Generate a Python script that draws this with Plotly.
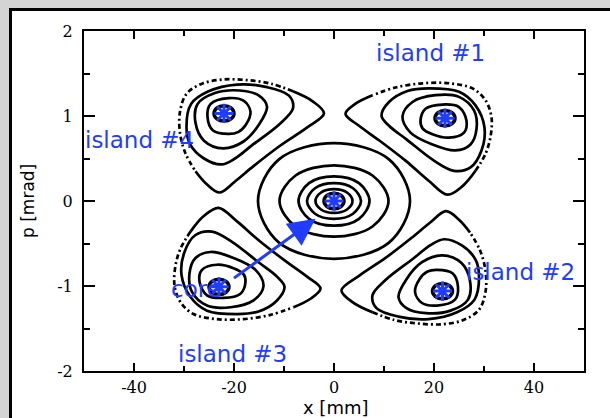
import plotly.graph_objects as go

# ---- axis ticks -------------------------------------------------------------
X_TICKS = [-40, -20, 0, 20, 40]
X_TICK_LABELS = ["-40", "-20", "0", "20", "40"]
X_MINOR = [-30, -10, 10, 30]
Y_TICKS = [-2, -1, 0, 1, 2]
Y_TICK_LABELS = ["-2", "-1", "0", "1", "2"]
Y_MINOR = [-1.5, -0.5, 0.5, 1.5]

# ---- fixed points (x [mm], p [mrad]) ---------------------------------------
FIXED_POINTS = [(0.0, 0.0), (22.2, 0.975), (21.7, -1.06), (-23.0, -1.01), (-22.0, 1.03)]

# smallest orbit traced round each fixed point (offsets from the point)
TINY_RING = [(2.0, 0.0), (1.4, 0.065), (0.0, 0.09), (-1.4, 0.065),
             (-2.0, 0.0), (-1.4, -0.065), (0.0, -0.09), (1.4, -0.065)]

# ---- central (core) orbits --------------------------------------------------
CORE_RINGS = [
    [(3.7, 0), (2.6, 0.10), (0, 0.14), (-2.6, 0.10), (-3.7, 0), (-2.6, -0.10), (0, -0.14), (2.6, -0.10)],
    [(5.4, 0), (3.8, 0.15), (0, 0.21), (-3.8, 0.15), (-5.4, 0), (-3.8, -0.15), (0, -0.21), (3.8, -0.15)],
    [(7.1, 0), (5.0, 0.21), (0, 0.29), (-5.0, 0.21), (-7.1, 0), (-5.0, -0.21), (0, -0.29), (5.0, -0.21)],
    [(10.9, 0), (7.7, 0.30), (0, 0.42), (-7.7, 0.30), (-10.9, 0), (-7.7, -0.30), (0, -0.42), (7.7, -0.30)],
    [(15.2, 0), (11.0, 0.49), (0, 0.68), (-11.0, 0.49), (-15.2, 0), (-11.0, -0.49), (0, -0.68), (11.0, -0.49)],
]

# ---- island orbits (offsets from each island's origin) ----------------------
ISLAND_ORIGIN = {1: (22.2, 0.975), 2: (21.3, -1.03), 3: (-22.6, -0.98), 4: (-21.8, 1.01)}

ISLAND1_RINGS = [
    [(-4.9, -0.03), (-3.9, 0.11), (-0.5, 0.16), (2.8, 0.13), (4.3, -0.03), (3.8, -0.17), (0.8, -0.23), (-2.5, -0.19), (-4.5, -0.12)],
    [(-8.5, 0.02), (-6.5, 0.19), (-1.9, 0.27), (2.8, 0.25), (5.8, 0.09), (6.3, -0.13), (5.1, -0.31), (2.1, -0.38), (-2.5, -0.31), (-6.9, -0.17)],
    [(-12.7, 0.03), (-11.2, 0.19), (-7.5, 0.32), (-3.2, 0.35), (2.8, 0.31), (6.1, 0.15), (7.9, -0.11), (7.3, -0.38), (5.1, -0.58), (1.8, -0.62), (-2.2, -0.50), (-7.7, -0.25), (-11.2, -0.09)],
]
ISLAND1_EDGE_SOLID = [(-14.5, 0.27), (-17.9, 0.17), (-19.9, 0.05), (-17.2, -0.09), (-13.2, -0.26), (-7.9, -0.50), (-3.2, -0.74), (0.5, -0.90), (3.5, -0.80), (6.1, -0.62)]
ISLAND1_EDGE_DOTTED = [(6.1, -0.62), (8.1, -0.42), (9.1, -0.22), (9.3, 0.01), (8.1, 0.21), (5.5, 0.35), (0.8, 0.41), (-4.5, 0.41), (-9.9, 0.36), (-14.5, 0.27)]

ISLAND2_RINGS = [
    [(-0.7, 0.22), (2.4, 0.18), (3.5, 0.02), (2.9, -0.13), (-0.7, -0.20), (-3.7, -0.17), (-5.1, -0.04), (-4.2, 0.11), (-2.6, 0.20)],
    [(0.4, 0.39), (4.2, 0.30), (5.9, 0.09), (5.5, -0.13), (2.0, -0.26), (-2.9, -0.29), (-6.8, -0.23), (-8.4, -0.10), (-6.8, 0.11), (-3.7, 0.31)],
    [(0.7, 0.58), (4.2, 0.51), (7.0, 0.34), (7.7, 0.15), (6.8, -0.13), (3.3, -0.28), (-2.4, -0.36), (-8.4, -0.33), (-12.8, -0.23), (-13.6, -0.08), (-11.0, 0.10), (-5.5, 0.35), (-2.0, 0.51)],
]
ISLAND2_EDGE_SOLID = [(5.9, 0.66), (3.7, 0.81), (1.1, 0.91), (-2.0, 0.78), (-5.7, 0.60), (-11.0, 0.36), (-16.3, 0.15), (-19.8, -0.02), (-17.6, -0.16), (-13.6, -0.28)]
ISLAND2_EDGE_DOTTED = [(-13.6, -0.28), (-9.2, -0.37), (-4.8, -0.41), (0.2, -0.42), (4.6, -0.37), (7.7, -0.25), (9.0, -0.04), (9.0, 0.21), (7.9, 0.45), (5.9, 0.66)]

ISLAND3_RINGS = [
    [(4.9, 0.03), (3.9, -0.11), (0.5, -0.16), (-2.8, -0.13), (-4.3, 0.03), (-3.8, 0.17), (-0.8, 0.23), (2.5, 0.19), (4.5, 0.12)],
    [(8.5, -0.02), (6.5, -0.19), (1.9, -0.27), (-2.8, -0.25), (-5.8, -0.09), (-6.3, 0.13), (-5.1, 0.31), (-2.1, 0.38), (2.5, 0.31), (6.9, 0.17)],
    [(12.7, -0.03), (11.2, -0.19), (7.5, -0.32), (3.2, -0.35), (-2.8, -0.31), (-6.1, -0.15), (-7.9, 0.11), (-7.3, 0.38), (-5.1, 0.58), (-1.8, 0.62), (2.2, 0.50), (7.7, 0.25), (11.2, 0.09)],
]
ISLAND3_EDGE_SOLID = [(14.5, -0.27), (17.9, -0.17), (19.9, -0.05), (17.2, 0.09), (13.2, 0.26), (7.9, 0.50), (3.2, 0.74), (-0.5, 0.90), (-3.5, 0.80), (-6.1, 0.62)]
ISLAND3_EDGE_DOTTED = [(-6.1, 0.62), (-8.1, 0.42), (-9.1, 0.22), (-9.3, -0.01), (-8.1, -0.21), (-5.5, -0.35), (-0.8, -0.41), (4.5, -0.41), (9.9, -0.36), (14.5, -0.27)]

ISLAND4_RINGS = [
    [(0.7, -0.22), (-2.4, -0.18), (-3.5, -0.02), (-2.9, 0.13), (0.7, 0.20), (3.7, 0.17), (5.1, 0.04), (4.2, -0.11), (2.6, -0.20)],
    [(-0.4, -0.39), (-4.2, -0.30), (-5.9, -0.09), (-5.5, 0.13), (-2.0, 0.26), (2.9, 0.29), (6.8, 0.23), (8.4, 0.10), (6.8, -0.11), (3.7, -0.31)],
    [(-0.7, -0.58), (-4.2, -0.51), (-7.0, -0.34), (-7.7, -0.15), (-6.8, 0.13), (-3.3, 0.28), (2.4, 0.36), (8.4, 0.33), (12.8, 0.23), (13.6, 0.08), (11.0, -0.10), (5.5, -0.35), (2.0, -0.51)],
]
ISLAND4_EDGE_SOLID = [(-5.9, -0.66), (-3.7, -0.81), (-1.1, -0.91), (2.0, -0.78), (5.7, -0.60), (11.0, -0.36), (16.3, -0.15), (19.8, 0.02), (17.6, 0.16), (13.6, 0.28)]
ISLAND4_EDGE_DOTTED = [(13.6, 0.28), (9.2, 0.37), (4.8, 0.41), (-0.2, 0.42), (-4.6, 0.37), (-7.7, 0.25), (-9.0, 0.04), (-9.0, -0.21), (-7.9, -0.45), (-5.9, -0.66)]

ISLANDS = {
    1: (ISLAND1_RINGS, ISLAND1_EDGE_SOLID, ISLAND1_EDGE_DOTTED),
    2: (ISLAND2_RINGS, ISLAND2_EDGE_SOLID, ISLAND2_EDGE_DOTTED),
    3: (ISLAND3_RINGS, ISLAND3_EDGE_SOLID, ISLAND3_EDGE_DOTTED),
    4: (ISLAND4_RINGS, ISLAND4_EDGE_SOLID, ISLAND4_EDGE_DOTTED),
}

# ---- labels ------------------------------------------------------------------
LABELS = [("island #1", 19.2, 1.74), ("island #2", 37.2, -0.84),
          ("island #3", -20.3, -1.80), ("island #4", -38.9, 0.72),
          ("core", -27.6, -1.03)]
ARROW_FROM = (-20.3, -0.92)
ARROW_TO = (-3.7, -0.21)

BLUE = "#1f3cff"
LINE_W = 2.7


def path(origin, pts, close):
    xs = [origin[0] + dx for dx, _ in pts]
    ys = [origin[1] + dp for _, dp in pts]
    if close:
        xs.append(xs[0])
        ys.append(ys[0])
    return xs, ys


fig = go.Figure()


def add_curve(xs, ys, dash="solid", width=LINE_W):
    fig.add_trace(go.Scatter(
        x=xs, y=ys, mode="lines",
        line=dict(color="black", width=width, shape="spline", smoothing=1.0, dash=dash),
        hoverinfo="skip", showlegend=False))


# core orbits
for ring in CORE_RINGS:
    add_curve(*path(FIXED_POINTS[0], ring, True))

# island orbits
for k, (rings, solid, dotted) in ISLANDS.items():
    o = ISLAND_ORIGIN[k]
    for ring in rings:
        add_curve(*path(o, ring, True))
    add_curve(*path(o, solid, False))
    add_curve(*path(o, dotted, False), dash="5px,3px,2px,3px")

# smallest orbits round the fixed points
for fp in FIXED_POINTS:
    add_curve(*path(fp, TINY_RING, True), width=3.5)

# fixed points
fig.add_trace(go.Scatter(
    x=[p[0] for p in FIXED_POINTS], y=[p[1] for p in FIXED_POINTS],
    mode="markers",
    marker=dict(symbol="asterisk-open", size=16, color=BLUE, line=dict(color=BLUE, width=3)),
    hoverinfo="skip", showlegend=False))

for text, lx, ly in LABELS:
    fig.add_annotation(x=lx, y=ly, xref="x", yref="y", text=text, showarrow=False,
                       font=dict(family="DejaVu Sans", size=23, color=BLUE),
                       xanchor="center", yanchor="middle")

fig.add_annotation(x=ARROW_TO[0], y=ARROW_TO[1], ax=ARROW_FROM[0], ay=ARROW_FROM[1],
                   xref="x", yref="y", axref="x", ayref="y", text="",
                   showarrow=True, arrowhead=2, arrowsize=1.8, arrowwidth=3,
                   arrowcolor=BLUE)

# axis titles
title_font = dict(family="DejaVu Sans", color="black")
fig.add_annotation(x=0.504, y=-0.106, xref="paper", yref="paper", text="x [mm]",
                   showarrow=False, xanchor="center", yanchor="middle",
                   font=dict(size=18, **title_font))
fig.add_annotation(x=-0.112, y=0.5, xref="paper", yref="paper", text="p [mrad]",
                   showarrow=False, xanchor="center", yanchor="middle", textangle=-90,
                   font=dict(size=17, **title_font))

# white panel with a black border on the grey page
fig.add_shape(type="rect", xref="paper", yref="paper",
              x0=-0.147, x1=1.12, y0=-0.25, y1=1.063,
              fillcolor="white", line=dict(color="black", width=3), layer="below")

tick_font = dict(family="DejaVu Serif", size=16, color="black")
fig.update_xaxes(
    range=[-50, 50], tickvals=X_TICKS, ticktext=X_TICK_LABELS,
    ticks="inside", ticklen=8, tickwidth=1.5, tickcolor="black",
    minor=dict(tickvals=X_MINOR, ticks="inside", ticklen=5, tickwidth=1.5, tickcolor="black"),
    showline=True, linecolor="black", linewidth=2, mirror="ticks",
    showgrid=False, zeroline=False, tickfont=tick_font, ticklabelstandoff=1,
    automargin=False)
fig.update_yaxes(
    range=[-2, 2], tickvals=Y_TICKS, ticktext=Y_TICK_LABELS,
    ticks="inside", ticklen=11, tickwidth=1.5, tickcolor="black",
    minor=dict(tickvals=Y_MINOR, ticks="inside", ticklen=6, tickwidth=1.5, tickcolor="black"),
    showline=True, linecolor="black", linewidth=2, mirror="ticks",
    showgrid=False, zeroline=False, tickfont=tick_font, ticklabelstandoff=6,
    automargin=False)

fig.update_layout(
    width=610, height=418, autosize=False,
    margin=dict(l=84, r=26, t=31, b=47),
    paper_bgcolor="#d4d4d4", plot_bgcolor="white",
    showlegend=False)

fig.write_html("out.html")
